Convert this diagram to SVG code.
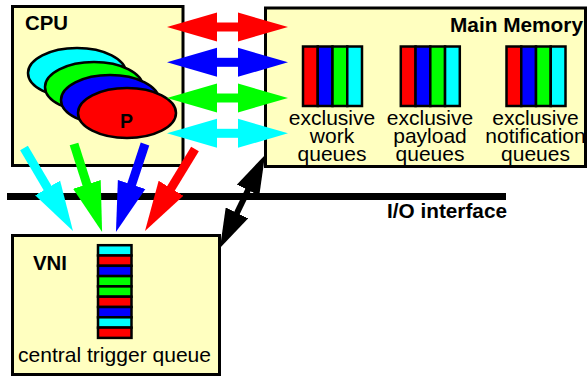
<svg xmlns="http://www.w3.org/2000/svg" xmlns:xlink="http://www.w3.org/1999/xlink" width="588" height="377" viewBox="0 0 588 377">
  <style>
    .box { fill: #FFFFC0; stroke: #000; stroke-width: 3; }
    .ell { stroke: #000; stroke-width: 2.5; }
    .cell { stroke: #000; stroke-width: 2.5; }
    .r { fill: #FF0000; } .b { fill: #0000FF; } .g { fill: #00FF00; } .c { fill: #00FFFF; }
    .bold { font-family: "Liberation Sans", Arial, sans-serif; font-weight: bold; font-size: 19.5px; fill: #000; }
    .lbl { font-family: "Liberation Sans", Arial, sans-serif; font-size: 21px; fill: #000; }
    .shaft { fill: none; stroke-width: 9; stroke-linecap: butt; }
    .sr { stroke: #FF0000; } .sb { stroke: #0000FF; } .sg { stroke: #00FF00; } .sc { stroke: #00FFFF; }
    .sk { stroke: #000; stroke-width: 6; fill: none; }
  </style>
  <defs>
    <marker id="hr" viewBox="0 -15 50 30" markerWidth="50" markerHeight="30" refX="2" refY="0" markerUnits="userSpaceOnUse" orient="auto-start-reverse"><path d="M0,-14.5 L50,0 L0,14.5 z" fill="#FF0000"/></marker>
    <marker id="hb" viewBox="0 -15 50 30" markerWidth="50" markerHeight="30" refX="2" refY="0" markerUnits="userSpaceOnUse" orient="auto-start-reverse"><path d="M0,-14.5 L50,0 L0,14.5 z" fill="#0000FF"/></marker>
    <marker id="hg" viewBox="0 -15 50 30" markerWidth="50" markerHeight="30" refX="2" refY="0" markerUnits="userSpaceOnUse" orient="auto-start-reverse"><path d="M0,-14.5 L50,0 L0,14.5 z" fill="#00FF00"/></marker>
    <marker id="hc" viewBox="0 -15 50 30" markerWidth="50" markerHeight="30" refX="2" refY="0" markerUnits="userSpaceOnUse" orient="auto-start-reverse"><path d="M0,-14.5 L50,0 L0,14.5 z" fill="#00FFFF"/></marker>
    <marker id="hk" viewBox="0 -12.5 39 25" markerWidth="39" markerHeight="25" refX="2" refY="0" markerUnits="userSpaceOnUse" orient="auto-start-reverse"><path d="M0,-12.5 L39,0 L0,12.5 z" fill="#000"/></marker>
    <g id="mq">
      <rect class="cell r" x="0" y="0" width="14.75" height="59.5"/>
      <rect class="cell b" x="14.75" y="0" width="14.75" height="59.5"/>
      <rect class="cell g" x="29.5" y="0" width="14.75" height="59.5"/>
      <rect class="cell c" x="44.25" y="0" width="14.75" height="59.5"/>
    </g>
  </defs>

  <g id="cpu">
    <rect class="box" x="12.5" y="6.5" width="170.5" height="159"/>
    <text class="bold" x="25" y="30" textLength="43" lengthAdjust="spacingAndGlyphs">CPU</text>
    <ellipse class="ell c" cx="77" cy="73" rx="49" ry="25"/>
    <ellipse class="ell g" cx="94" cy="87" rx="49" ry="25"/>
    <ellipse class="ell b" cx="110" cy="100" rx="49" ry="25"/>
    <ellipse class="ell r" cx="127" cy="113" rx="49" ry="25"/>
    <text class="bold" x="126.5" y="128" text-anchor="middle">P</text>
  </g>

  <g id="main-memory">
    <rect class="box" x="265.5" y="8" width="320" height="158.5"/>
    <text class="bold" x="450" y="32" textLength="133" lengthAdjust="spacingAndGlyphs">Main Memory</text>
    <g id="work-queues">
      <use xlink:href="#mq" href="#mq" x="303" y="46.5"/>
      <text class="lbl" text-anchor="middle" x="332"><tspan x="332" y="124.5">exclusive</tspan><tspan x="332" y="142.5">work</tspan><tspan x="332" y="160.5">queues</tspan></text>
    </g>
    <g id="payload-queues">
      <use xlink:href="#mq" href="#mq" x="400.8" y="46.5"/>
      <text class="lbl" text-anchor="middle" x="430"><tspan x="430" y="124.5">exclusive</tspan><tspan x="430" y="142.5">payload</tspan><tspan x="430" y="160.5">queues</tspan></text>
    </g>
    <g id="notification-queues">
      <use xlink:href="#mq" href="#mq" x="506.5" y="46.5"/>
      <text class="lbl" text-anchor="middle" x="535.5"><tspan x="535.5" y="124.5">exclusive</tspan><tspan x="535.5" y="142.5">notification</tspan><tspan x="535.5" y="160.5">queues</tspan></text>
    </g>
  </g>

  <g id="vni">
    <rect class="box" x="12.5" y="235.5" width="207" height="139"/>
    <text class="bold" x="33" y="270" textLength="34" lengthAdjust="spacingAndGlyphs">VNI</text>
    <g id="central-trigger-queue">
      <rect class="cell c" x="98" y="245.2" width="33.5" height="10.3"/>
      <rect class="cell r" x="98" y="255.5" width="33.5" height="10.3"/>
      <rect class="cell b" x="98" y="265.8" width="33.5" height="10.3"/>
      <rect class="cell g" x="98" y="276.1" width="33.5" height="10.3"/>
      <rect class="cell g" x="98" y="286.4" width="33.5" height="10.3"/>
      <rect class="cell r" x="98" y="296.7" width="33.5" height="10.3"/>
      <rect class="cell b" x="98" y="307.0" width="33.5" height="10.3"/>
      <rect class="cell c" x="98" y="317.3" width="33.5" height="10.3"/>
      <rect class="cell r" x="98" y="327.6" width="33.5" height="10.3"/>
    </g>
    <text class="lbl" x="18" y="361.5" textLength="193" lengthAdjust="spacingAndGlyphs">central trigger queue</text>
  </g>

  <g id="io-interface">
    <line x1="7" y1="196.5" x2="506" y2="196.5" stroke="#000" stroke-width="7"/>
    <text class="bold" x="387" y="217.5" textLength="120" lengthAdjust="spacingAndGlyphs">I/O interface</text>
  </g>

  <g id="connectors">
    <line class="shaft sr" x1="215" y1="27" x2="240" y2="27" marker-start="url(#hr)" marker-end="url(#hr)"/>
    <line class="shaft sb" x1="215" y1="62.3" x2="240" y2="62.3" marker-start="url(#hb)" marker-end="url(#hb)"/>
    <line class="shaft sg" x1="215" y1="98" x2="240" y2="98" marker-start="url(#hg)" marker-end="url(#hg)"/>
    <line class="shaft sc" x1="215" y1="133.3" x2="240" y2="133.3" marker-start="url(#hc)" marker-end="url(#hc)"/>

    <line class="shaft sc" x1="24" y1="148" x2="48.6" y2="189.7" marker-end="url(#hc)"/>
    <line class="shaft sg" x1="74" y1="144" x2="87.5" y2="186.3" marker-end="url(#hg)"/>
    <line class="shaft sb" x1="145" y1="144" x2="131" y2="186.4" marker-end="url(#hb)"/>
    <line class="shaft sr" x1="195" y1="149" x2="170" y2="190" marker-end="url(#hr)"/>

    <line class="sk" x1="248.9" y1="188.3" x2="236.1" y2="214.7" marker-start="url(#hk)" marker-end="url(#hk)"/>
  </g>
</svg>
